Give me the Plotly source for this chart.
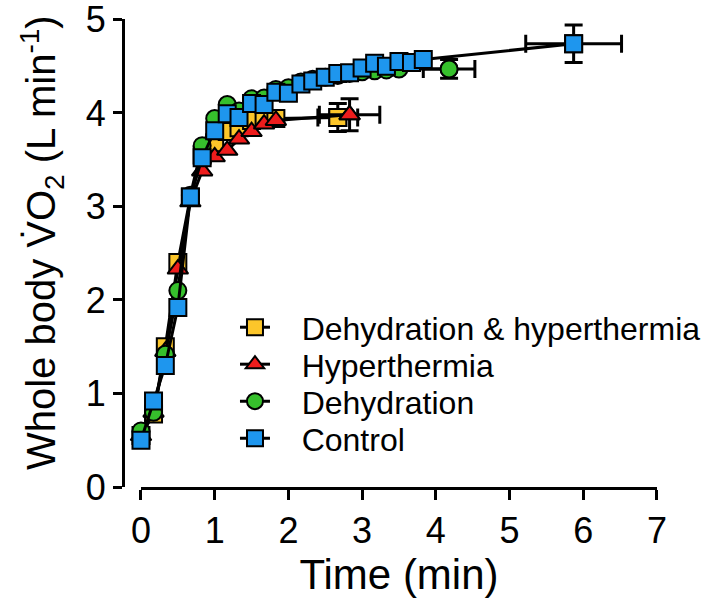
import plotly.graph_objects as go

# ---- data ----
t_dh = [0, 0.17, 0.33, 0.5, 0.67, 0.83, 1.0, 1.17, 1.33, 1.5, 1.67, 1.83, 2.67]
vo2_dh = [0.55, 0.78, 1.50, 2.40, 3.10, 3.55, 3.68, 3.80, 3.84, 3.92, 3.93, 3.94, 3.95]

t_hyper = [0, 0.17, 0.33, 0.5, 0.67, 0.83, 1.0, 1.17, 1.33, 1.5, 1.67, 1.83, 2.83]
vo2_hyper = [0.55, 0.80, 1.45, 2.33, 3.05, 3.38, 3.53, 3.60, 3.72, 3.80, 3.88, 3.92, 3.98]

t_dehyd = [0, 0.17, 0.33, 0.5, 0.67, 0.83, 1.0, 1.17, 1.33, 1.5, 1.67, 1.83, 2.0, 2.17,
           2.33, 2.5, 2.67, 2.83, 3.0, 3.17, 3.33, 3.5, 4.18]
vo2_dehyd = [0.60, 0.80, 1.42, 2.10, 3.12, 3.65, 3.94, 4.09, 4.02, 4.15, 4.16, 4.25, 4.27, 4.33,
             4.36, 4.38, 4.40, 4.42, 4.44, 4.45, 4.46, 4.47, 4.47]

t_ctrl = [0, 0.17, 0.33, 0.5, 0.67, 0.83, 1.0, 1.17, 1.33, 1.5, 1.67, 1.83, 2.0, 2.17, 2.33,
          2.5, 2.67, 2.83, 3.0, 3.17, 3.33, 3.5, 3.67, 3.83, 5.87]
vo2_ctrl = [0.50, 0.92, 1.30, 1.92, 3.10, 3.52, 3.81, 3.99, 3.95, 4.10, 4.09, 4.22, 4.21, 4.31, 4.34,
            4.38, 4.42, 4.43, 4.48, 4.53, 4.50, 4.55, 4.54, 4.57, 4.74]

# end-point error bars (SD) : [x error, y error]
err_dh = [0.27, 0.15]
err_hyper = [0.41, 0.17]
err_dehyd = [0.35, 0.10]
err_ctrl = [0.65, 0.20]

x_ticks = [0, 1, 2, 3, 4, 5, 6, 7]
y_ticks = [0, 1, 2, 3, 4, 5]

names = ["Dehydration & hyperthermia", "Hyperthermia", "Dehydration", "Control"]
colors = ["#FCC62A", "#EE1C1C", "#36C02C", "#1E96EE"]
symbols = ["square", "triangle-up", "circle", "square"]
sizes = [17, 18, 17, 17]

series = [(t_dh, vo2_dh, err_dh), (t_hyper, vo2_hyper, err_hyper),
          (t_dehyd, vo2_dehyd, err_dehyd), (t_ctrl, vo2_ctrl, err_ctrl)]

FONT = "Liberation Sans, Arial, sans-serif"
NB = "\u00a0\u00a0\u00a0"
legend_ids = ["legend", "legend2", "legend3", "legend4"]
legend_y = [0.341, 0.262, 0.183, 0.104]

fig = go.Figure()
for i, ((tx, vy, err), name, col, sym, sz) in enumerate(zip(series, names, colors, symbols, sizes)):
    fig.add_trace(go.Scatter(
        x=tx, y=vy, name=NB + name, mode="lines+markers", legend=legend_ids[i],
        line=dict(color="black", width=3),
        marker=dict(symbol=sym, size=sz, color=col, line=dict(color="black", width=2)),
        cliponaxis=False,
    ))
    # end point with its error bars
    fig.add_trace(go.Scatter(
        x=[tx[-1]], y=[vy[-1]], mode="markers", showlegend=False,
        marker=dict(symbol=sym, size=sz, color=col, line=dict(color="black", width=2)),
        error_x=dict(type="data", array=[err[0]], color="black", thickness=3, width=9),
        error_y=dict(type="data", array=[err[1]], color="black", thickness=3, width=9),
        cliponaxis=False,
    ))

leg_common = dict(x=0.2097, xanchor="left", yanchor="middle",
                  font=dict(family=FONT, size=32, color="black"),
                  bgcolor="rgba(0,0,0,0)", borderwidth=0)
legends = {lid: dict(leg_common, y=ly) for lid, ly in zip(legend_ids, legend_y)}

fig.update_layout(
    width=709, height=599,
    margin=dict(l=123, r=52, t=19, b=112, autoexpand=False),
    paper_bgcolor="white", plot_bgcolor="white",
    font=dict(family=FONT, color="black", size=36),
    showlegend=True,
    xaxis=dict(range=[0, 7.001], domain=[0.0337, 1], anchor="y", automargin=False,
               tickmode="array", tickvals=x_ticks, ticklabeloverflow="allow",
               showline=True, linecolor="black", linewidth=3,
               ticks="outside", ticklen=10, tickwidth=3, tickcolor="black",
               showgrid=False, zeroline=False,
               tickfont=dict(size=36),
               title=dict(text="Time (min)", font=dict(size=42), standoff=4)),
    yaxis=dict(range=[0, 5.004], anchor="free", position=0, automargin=False,
               tickmode="array", tickvals=y_ticks, ticklabeloverflow="allow",
               showline=True, linecolor="black", linewidth=3,
               ticks="outside", ticklen=9, tickwidth=3, tickcolor="black",
               showgrid=False, zeroline=False,
               tickfont=dict(size=36)),
    annotations=[dict(text="Whole body V\u0307O<sub>2</sub> (L min<sup>-1</sup>)",
                      xref="paper", yref="paper", x=-0.152, y=0.523,
                      xanchor="center", yanchor="middle", textangle=-90,
                      showarrow=False, font=dict(family=FONT, size=40, color="black"))],
    **legends,
)

fig.write_html("out.html", config={"displayModeBar": False},
               post_script="document.body.style.margin='0px';")
